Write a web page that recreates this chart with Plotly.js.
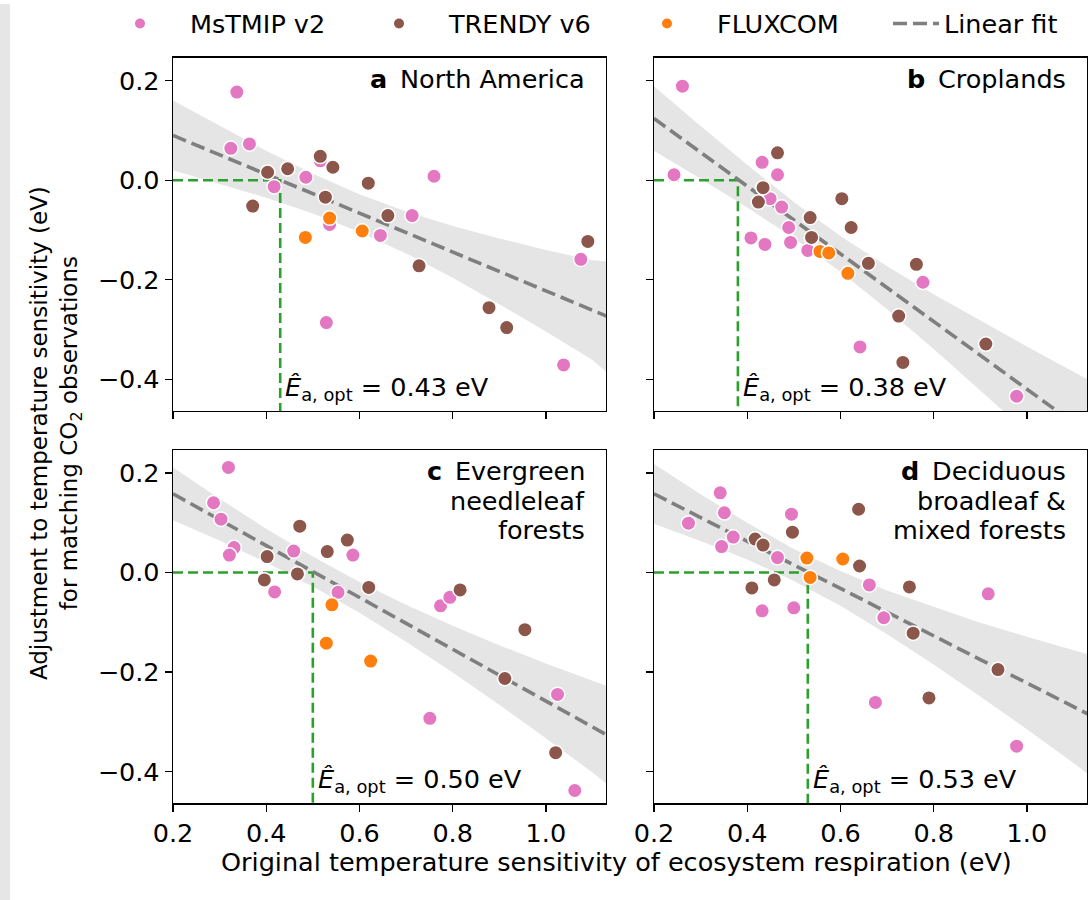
<!DOCTYPE html>
<html>
<head>
<meta charset="utf-8">
<script src="https://cdn.plot.ly/plotly-3.0.1.min.js"></script>
<style>
html, body { margin: 0; padding: 0; background: #ffffff; }
#chart { width: 1089px; height: 900px; }
</style>
</head>
<body>
<div id="chart"></div>
<script>
// ---------- tick labels ----------
const xTickVals = [0.2, 0.4, 0.6, 0.8, 1.0];
const xTickText = ['0.2', '0.4', '0.6', '0.8', '1.0'];
const yTickVals = [-0.4, -0.2, 0.0, 0.2];
const yTickText = ['\u22120.4', '\u22120.2', '0.0', '0.2'];

// ---------- series names ----------
const seriesNames = ['MsTMIP v2', 'TRENDY v6', 'FLUXCOM', 'Linear fit'];
const panelLetters = ['a', 'b', 'c', 'd'];
const panelTitleLines = [
  ['North America'],
  ['Croplands'],
  ['Evergreen', 'needleleaf', 'forests'],
  ['Deciduous', 'broadleaf &amp;', 'mixed forests']
];
const eaOpt = [0.43, 0.38, 0.50, 0.53];

// ---------- panel a: North America ----------
const aMsX = [0.337, 0.324, 0.364, 0.417, 0.485, 0.516, 0.536, 0.645, 0.713, 0.529, 0.760, 1.075, 1.038];
const aMsY = [0.177, 0.064, 0.073, -0.013, 0.006, 0.039, -0.089, -0.111, -0.071, -0.286, 0.008, -0.159, -0.371];
const aTrX = [0.403, 0.446, 0.371, 0.516, 0.543, 0.527, 0.619, 0.661, 0.728, 1.090, 0.878, 0.916];
const aTrY = [0.016, 0.023, -0.052, 0.048, 0.026, -0.034, -0.006, -0.071, -0.172, -0.123, -0.256, -0.296];
const aFxX = [0.536, 0.484, 0.606];
const aFxY = [-0.076, -0.115, -0.102];

// ---------- panel b: Croplands ----------
const bMsX = [0.261, 0.243, 0.432, 0.465, 0.449, 0.474, 0.489, 0.408, 0.438, 0.493, 0.530, 0.642, 0.777, 0.978];
const bMsY = [0.189, 0.011, 0.036, 0.011, -0.037, -0.054, -0.095, -0.116, -0.129, -0.125, -0.141, -0.335, -0.205, -0.434];
const bTrX = [0.465, 0.434, 0.424, 0.535, 0.603, 0.623, 0.538, 0.660, 0.763, 0.725, 0.734, 0.912];
const bTrY = [0.055, -0.015, -0.044, -0.075, -0.037, -0.095, -0.115, -0.167, -0.169, -0.273, -0.366, -0.329];
const bFxX = [0.556, 0.575, 0.616];
const bFxY = [-0.143, -0.146, -0.187];

// ---------- panel c: Evergreen needleleaf forests ----------
const cMsX = [0.319, 0.287, 0.303, 0.331, 0.321, 0.459, 0.586, 0.418, 0.554, 0.774, 0.794, 1.025, 1.062, 0.751];
const cMsY = [0.211, 0.140, 0.107, 0.050, 0.035, 0.043, 0.035, -0.039, -0.040, -0.067, -0.050, -0.245, -0.438, -0.293];
const cTrX = [0.402, 0.472, 0.531, 0.574, 0.467, 0.396, 0.620, 0.816, 0.955, 0.912, 1.021];
const cTrY = [0.032, 0.093, 0.042, 0.065, -0.003, -0.015, -0.030, -0.035, -0.115, -0.213, -0.362];
const cFxX = [0.541, 0.529, 0.624];
const cFxY = [-0.065, -0.142, -0.178];

// ---------- panel d: Deciduous broadleaf & mixed forests ----------
const dMsX = [0.342, 0.351, 0.274, 0.370, 0.345, 0.495, 0.465, 0.662, 0.432, 0.500, 0.693, 0.917, 0.978, 0.675];
const dMsY = [0.160, 0.120, 0.099, 0.071, 0.052, 0.117, 0.030, -0.025, -0.077, -0.071, -0.091, -0.043, -0.349, -0.261];
const dTrX = [0.417, 0.434, 0.497, 0.639, 0.641, 0.458, 0.410, 0.748, 0.756, 0.938, 0.790];
const dTrY = [0.067, 0.055, 0.081, 0.127, 0.013, -0.015, -0.031, -0.029, -0.122, -0.195, -0.252];
const dFxX = [0.528, 0.605, 0.535];
const dFxY = [0.029, 0.027, -0.010];

// ---------- fit lines and confidence bands ----------
const bandX = [0.2, 0.3, 0.4, 0.5, 0.6, 0.7, 0.8, 0.9, 1.0, 1.1, 1.13];
const aFit   = [0.090, 0.051, 0.012, -0.027, -0.066, -0.105, -0.144, -0.183, -0.222, -0.261, -0.273];
const aUpper = [0.160, 0.109, 0.059, 0.013, -0.028, -0.063, -0.092, -0.117, -0.140, -0.161, -0.163];
const aLower = [0.020, -0.007, -0.035, -0.067, -0.104, -0.147, -0.196, -0.249, -0.304, -0.361, -0.385];
const bFit   = [0.124, 0.056, -0.012, -0.080, -0.148, -0.216, -0.284, -0.352, -0.420, -0.488, -0.508];
const bUpper = [0.189, 0.109, 0.031, -0.044, -0.112, -0.173, -0.229, -0.282, -0.334, -0.385, -0.400];
const bLower = [0.059, 0.003, -0.055, -0.116, -0.184, -0.259, -0.339, -0.422, -0.506, -0.591, -0.620];
const cFit   = [0.158, 0.106, 0.054, 0.002, -0.050, -0.102, -0.154, -0.206, -0.258, -0.310, -0.326];
const cUpper = [0.211, 0.148, 0.088, 0.032, -0.019, -0.065, -0.107, -0.146, -0.183, -0.218, -0.228];
const cLower = [0.105, 0.064, 0.020, -0.028, -0.081, -0.139, -0.201, -0.266, -0.333, -0.402, -0.424];
const dFit   = [0.158, 0.110, 0.063, 0.015, -0.032, -0.080, -0.127, -0.175, -0.222, -0.270, -0.284];
const dUpper = [0.218, 0.157, 0.100, 0.047, 0.003, -0.036, -0.069, -0.101, -0.129, -0.157, -0.164];
const dLower = [0.098, 0.063, 0.026, -0.017, -0.067, -0.124, -0.185, -0.249, -0.315, -0.383, -0.404];

// ---------- styling ----------
const FONT = 'DejaVu Sans';
const FS = 25.5;
const COL_MS = '#e377c2', COL_TR = '#8c564b', COL_FX = '#ff7f0e';
const COL_FIT = '#7f7f7f', COL_BAND = 'rgba(127,127,127,0.2)', COL_GREEN = '#2ca02c';
const X_RANGE = [0.2, 1.129];
const Y_RANGE = [-0.464, 0.246];

const panels = [
  {ms: [aMsX, aMsY], tr: [aTrX, aTrY], fx: [aFxX, aFxY], fit: aFit, up: aUpper, lo: aLower},
  {ms: [bMsX, bMsY], tr: [bTrX, bTrY], fx: [bFxX, bFxY], fit: bFit, up: bUpper, lo: bLower},
  {ms: [cMsX, cMsY], tr: [cTrX, cTrY], fx: [cFxX, cFxY], fit: cFit, up: cUpper, lo: cLower},
  {ms: [dMsX, dMsY], tr: [dTrX, dTrY], fx: [dFxX, dFxY], fit: dFit, up: dUpper, lo: dLower}
];

const traces = [];
const annotations = [];
const W = 1089, H = 900;
// pixel boxes of the four panels (left, right, top, bottom)
const boxes = [[173, 606, 54, 409], [654, 1087, 54, 409], [173, 606, 448, 803], [654, 1087, 448, 803]];
const layout = {
  width: W, height: H,
  margin: {l: 0, r: 0, t: 0, b: 0},
  paper_bgcolor: '#ffffff', plot_bgcolor: '#ffffff',
  font: {family: FONT, size: FS, color: '#000000'},
  showlegend: true,
  shapes: [{type: 'rect', xref: 'paper', yref: 'paper', x0: 0, x1: 10 / W, y0: 0, y1: 1,
            fillcolor: '#e6e6e6', line: {width: 0}, layer: 'below'}]
};

panels.forEach((p, i) => {
  const n = i === 0 ? '' : String(i + 1);
  const xa = 'x' + n, ya = 'y' + n;
  const b = boxes[i];
  const isLeft = (i % 2 === 0), isBottom = (i >= 2);
  layout['xaxis' + n] = {
    domain: [b[0] / W, b[1] / W], range: X_RANGE, anchor: ya,
    tickvals: xTickVals, ticktext: xTickText, showticklabels: isBottom,
    ticks: 'outside', ticklen: 7, tickwidth: 1.3, tickcolor: '#000',
    showline: true, linecolor: '#000', linewidth: 1.3, mirror: true,
    showgrid: false, zeroline: false, tickfont: {family: FONT, size: FS}
  };
  layout['yaxis' + n] = {
    domain: [1 - b[3] / H, 1 - b[2] / H], range: Y_RANGE, anchor: xa,
    tickvals: yTickVals, ticktext: yTickText, showticklabels: isLeft,
    ticks: 'outside', ticklen: 7, tickwidth: 1.3, tickcolor: '#000',
    showline: true, linecolor: '#000', linewidth: 1.3, mirror: true,
    showgrid: false, zeroline: false, tickfont: {family: FONT, size: FS}
  };
  // confidence band
  traces.push({
    x: bandX.concat(bandX.slice().reverse()),
    y: p.up.concat(p.lo.slice().reverse()),
    xaxis: xa, yaxis: ya, type: 'scatter', mode: 'lines', fill: 'toself',
    fillcolor: COL_BAND, line: {width: 0, color: 'rgba(0,0,0,0)'},
    showlegend: false, hoverinfo: 'skip'
  });
  // optimal Ea guide (green)
  traces.push({
    x: [X_RANGE[0], eaOpt[i], eaOpt[i]], y: [0, 0, Y_RANGE[0]],
    xaxis: xa, yaxis: ya, type: 'scatter', mode: 'lines',
    line: {color: COL_GREEN, width: 2.6, dash: '10px,5px'},
    showlegend: false, hoverinfo: 'skip'
  });
  // fit line
  traces.push({
    x: bandX, y: p.fit, xaxis: xa, yaxis: ya, type: 'scatter', mode: 'lines',
    name: seriesNames[3], legendgroup: 'fit', legend: 'legend4', showlegend: i === 0,
    line: {color: COL_FIT, width: 3.6, dash: '14px,6px'}
  });
  const mk = (c) => ({color: c, size: 14.5, line: {color: '#ffffff', width: 1.5}});
  traces.push({x: p.ms[0], y: p.ms[1], xaxis: xa, yaxis: ya, type: 'scatter', mode: 'markers',
    name: seriesNames[0], legendgroup: 'ms', legend: 'legend', showlegend: i === 0, marker: mk(COL_MS)});
  traces.push({x: p.tr[0], y: p.tr[1], xaxis: xa, yaxis: ya, type: 'scatter', mode: 'markers',
    name: seriesNames[1], legendgroup: 'tr', legend: 'legend2', showlegend: i === 0, marker: mk(COL_TR)});
  traces.push({x: p.fx[0], y: p.fx[1], xaxis: xa, yaxis: ya, type: 'scatter', mode: 'markers',
    name: seriesNames[2], legendgroup: 'fx', legend: 'legend3', showlegend: i === 0, marker: mk(COL_FX)});

  // panel label, one annotation per line (right aligned)
  panelTitleLines[i].forEach((line, k) => {
    annotations.push({
      xref: xa + ' domain', yref: ya + ' domain', x: 1, y: 1, xanchor: 'right', yanchor: 'middle',
      xshift: -19, yshift: -(21 + 29.5 * k), showarrow: false,
      text: (k === 0 ? '<b>' + panelLetters[i] + '</b>\u2002' : '') + line,
      font: {family: FONT, size: FS, color: '#000'}
    });
  });
  // Ea opt label
  annotations.push({
    xref: xa, yref: ya + ' domain', x: eaOpt[i], y: 0, xanchor: 'left', yanchor: 'bottom',
    xshift: 3, yshift: 4, showarrow: false,
    text: '<i>\u00CA</i><sub>a, opt</sub> = ' + eaOpt[i].toFixed(2) + ' eV',
    font: {family: FONT, size: FS, color: '#000'}
  });
});

// axis titles
annotations.push({
  xref: 'paper', yref: 'paper', x: 616 / W, y: 1 - 862 / H, xanchor: 'center', yanchor: 'middle',
  showarrow: false, text: 'Original temperature sensitivity of ecosystem respiration (eV)',
  font: {family: FONT, size: FS, color: '#000'}
});
annotations.push({
  xref: 'paper', yref: 'paper', x: 56 / W, y: 1 - 431 / H, xanchor: 'center', yanchor: 'middle',
  showarrow: false, textangle: -90,
  text: 'Adjustment to temperature sensitivity (eV)<br>for matching CO<sub>2</sub> observations',
  font: {family: FONT, size: 23, color: '#000'}
});
layout.annotations = annotations;

// legends
const legBase = {orientation: 'h', yanchor: 'middle', y: 1 - 20 / H, xanchor: 'left',
  bgcolor: 'rgba(0,0,0,0)', font: {family: FONT, size: FS, color: '#000'}};
layout.legend = Object.assign({}, legBase, {x: 90 / W, itemwidth: 90, itemsizing: 'constant'});
layout.legend2 = Object.assign({}, legBase, {x: 349 / W, itemwidth: 90, itemsizing: 'constant'});
layout.legend3 = Object.assign({}, legBase, {x: 617 / W, itemwidth: 90, itemsizing: 'constant'});
layout.legend4 = Object.assign({}, legBase, {x: 888 / W, itemwidth: 46});

Plotly.newPlot('chart', traces, layout, {displayModeBar: false, staticPlot: true});
</script>
</body>
</html>
